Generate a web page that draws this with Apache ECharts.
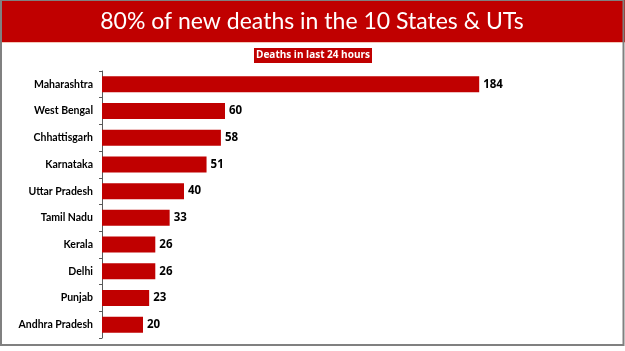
<!DOCTYPE html>
<html><head><meta charset="utf-8">
<script src="https://cdn.jsdelivr.net/npm/echarts@6/dist/echarts.min.js"></script>
<style>html,body{margin:0;padding:0;background:#fff}#c{width:625px;height:351px}</style>
</head><body><div id="c"></div>
<script>
const categories = ["Maharashtra","West Bengal","Chhattisgarh","Karnataka","Uttar Pradesh","Tamil Nadu","Kerala","Delhi","Punjab","Andhra Pradesh"];
const deaths = [184,60,58,51,40,33,26,26,23,20];
const titleText = "80% of new deaths in the 10 States & UTs";
const subtitleText = "Deaths in last 24 hours";

const chart = echarts.init(document.getElementById('c'), null, {renderer:'canvas'});
chart.setOption({
  animation:false,
  graphic:[
    {type:'rect', shape:{x:0,y:0,width:625,height:42}, style:{fill:'#C00000'}, z:0},
    {type:'rect', shape:{x:0,y:42,width:625,height:1}, style:{fill:'#f4c7b8'}, z:0},
    {type:'rect', shape:{x:1,y:0,width:622.5,height:345}, style:{fill:null, stroke:'#808080', lineWidth:2}, z:1},
    {type:'rect', shape:{x:254,y:48,width:118,height:15}, style:{fill:'#C00000'}, z:2},
    {type:'text', x:313, y:55.5, style:{text:subtitleText, fill:'#fff', font:'bold 10px "Open Sans"', textAlign:'center', textVerticalAlign:'middle'}, z:3},
    {type:'text', x:312, y:22, style:{text:titleText, fill:'#fff', font:'23px Lato', textAlign:'center', textVerticalAlign:'middle'}, z:3}
  ],
  grid:{left:102, top:71, width:410, height:267, containLabel:false},
  xAxis:{type:'value', min:0, max:200, show:false},
  yAxis:{type:'category', data:categories, inverse:true,
    axisLine:{show:true, lineStyle:{color:'#595959', width:1}},
    axisTick:{show:true, length:3, lineStyle:{color:'#595959'}},
    axisLabel:{color:'#000', fontWeight:'bold', fontSize:10.5, fontFamily:'Lato', margin:9}
  },
  series:[{type:'bar', data:deaths, barCategoryGap:'40%',
    itemStyle:{color:'#C00000'},
    label:{show:true, position:'right', distance:4, color:'#000', fontWeight:'bold', fontSize:11.5, fontFamily:'Open Sans'}
  }]
});
</script></body></html>
